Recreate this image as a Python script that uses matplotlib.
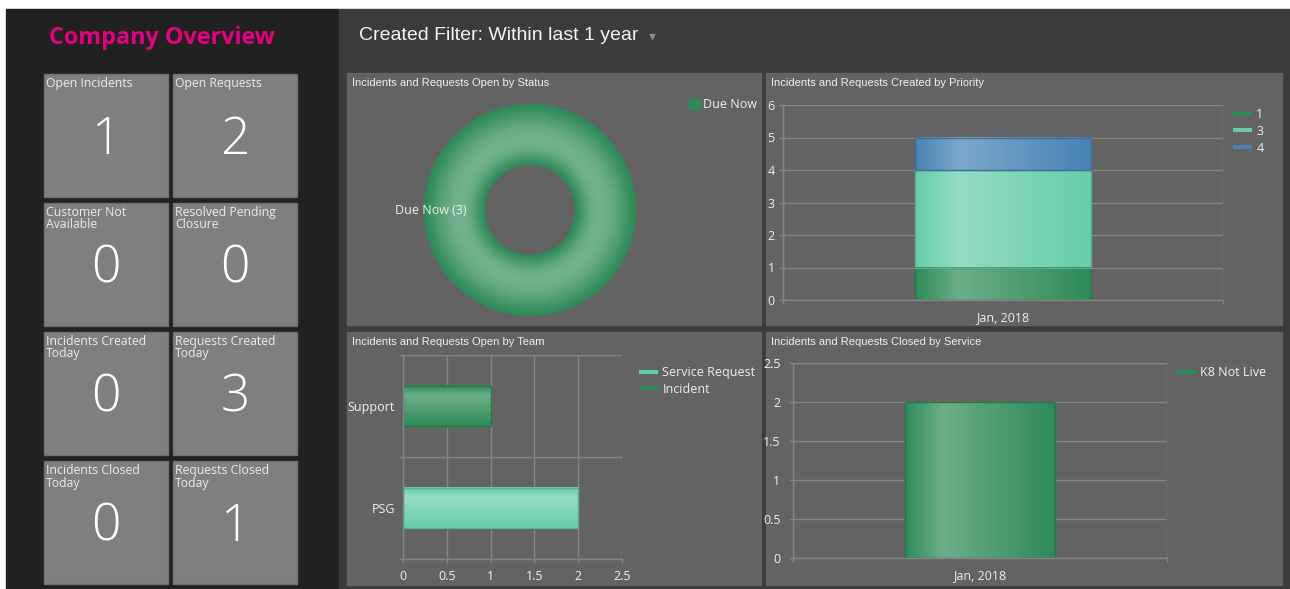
import matplotlib
matplotlib.use("Agg")
import matplotlib.pyplot as plt
import numpy as np
from matplotlib.patches import Rectangle
from matplotlib.lines import Line2D
from matplotlib.colors import to_rgb
from matplotlib.ticker import FuncFormatter

plt.rcParams['font.family'] = ['Open Sans', 'DejaVu Sans']

W, H = 1290, 589

# ---- data ----
tile_labels = ["Open Incidents", "Open Requests",
               "Customer Not\nAvailable", "Resolved Pending\nClosure",
               "Incidents Created\nToday", "Requests Created\nToday",
               "Incidents Closed\nToday", "Requests Closed\nToday"]
tile_values = [1, 2, 0, 0, 0, 3, 0, 1]

status_names = ["Due Now"]
status_counts = [3]

priority_months = ["Jan, 2018"]
priority_names = ["1", "3", "4"]
priority_counts = [[1], [3], [1]]

teams = ["PSG", "Support"]
team_series = ["Service Request", "Incident"]
team_counts = [[2, 0], [0, 1]]

service_months = ["Jan, 2018"]
service_names = ["K8 Not Live"]
service_counts = [[2]]

chart_titles = ["Incidents and Requests Open by Status",
                "Incidents and Requests Created by Priority",
                "Incidents and Requests Open by Team",
                "Incidents and Requests Closed by Service"]

# ---- colours ----
GREEN = '#2e8b57'
AQUA = '#66cdaa'
BLUE = '#4682b4'
PANEL = '#636363'
GRID = '#858585'
TXT = '#f0f0f0'


def box(x0, y0, x1, y1):
    return [x0 / W, 1 - y1 / H, (x1 - x0) / W, (y1 - y0) / H]


def darker(c, f=0.85):
    return tuple(np.array(to_rgb(c)) * f)


def shade(ax, patch, color, horizontal=True, peak=0.25, amount=0.3):
    # gloss gradient over one bar, clipped to the bar itself
    x, y = patch.get_x(), patch.get_y()
    w, h = patch.get_width(), patch.get_height()
    if w == 0 or h == 0:
        patch.set_visible(False)
        return
    t = np.linspace(0, 1, 200)
    k = np.where(t < peak, t / peak, (1 - t) / (1 - peak))
    base = np.array(to_rgb(color))
    cols = base + (1 - base) * amount * k[:, None]
    img = cols[None, :, :] if horizontal else cols[:, None, :]
    z = patch.get_zorder()
    ax.imshow(img, extent=(x, x + w, y, y + h), origin='upper', aspect='auto',
              interpolation='bilinear', zorder=z + 0.1, clip_path=patch)
    patch.set_facecolor('none')
    patch.set_zorder(z + 0.2)


def style(ax):
    ax.set_facecolor(PANEL)
    for s in ['top', 'right']:
        ax.spines[s].set_visible(False)
    for s in ['left', 'bottom']:
        ax.spines[s].set_color(GRID)
        ax.spines[s].set_linewidth(1)
    ax.tick_params(which='both', colors=GRID, labelcolor=TXT, length=3, width=1, labelsize=9)
    ax.set_axisbelow(True)


def leg(ax, handles, labels, x, y, **kw):
    opts = dict(handlelength=1.2, handletextpad=0.5, labelspacing=0.3)
    opts.update(kw)
    ax.legend(handles, labels, loc='upper left', bbox_to_anchor=(x / W, 1 - y / H),
              bbox_transform=fig.transFigure, frameon=False, borderpad=0, borderaxespad=0,
              fontsize=9, labelcolor=TXT, **opts)


fig = plt.figure(figsize=(W / 100, H / 100), dpi=100, facecolor='white')

# ---- background, tiles, panels ----
bg = fig.add_axes([0, 0, 1, 1], zorder=0)
bg.set_xlim(0, W)
bg.set_ylim(H, 0)
bg.axis('off')
bg.add_patch(Rectangle((6, 9), 333, H - 9, color='#212121'))
bg.add_patch(Rectangle((339, 9), W - 339, H - 9, color='#3b3b3b'))

bg.text(162, 38, "Company Overview", ha='center', va='center', fontsize=16.8,
        fontweight='bold', color='#e6007e')
bg.text(359, 35, "Created Filter: Within last 1 year", ha='left', va='center',
        fontsize=14, color='#f5f5f5', family='Liberation Sans')
bg.text(652, 36, '\u25be', ha='center', va='center', fontsize=10, color='#8a8a8a',
        family='DejaVu Sans')

tile_x = [44, 173]
tile_y = [74, 203, 332, 461]
for i, (lab, val) in enumerate(zip(tile_labels, tile_values)):
    x0 = tile_x[i % 2]
    y0 = tile_y[i // 2]
    bg.add_patch(Rectangle((x0, y0), 124, 123, facecolor='#7f7f7f', edgecolor='#707070', lw=1))
    bg.text(x0 + 2, y0 + 3, lab, ha='left', va='top', fontsize=8.8, linespacing=0.95,
            color='#ececec')
    bg.text(x0 + 62, y0 + 66, str(val), ha='center', va='center', fontsize=37,
            color='white', fontweight='light')

panels = [(347, 73, 761, 325), (766, 73, 1282, 325), (347, 332, 761, 585), (766, 332, 1282, 585)]
for (x0, y0, x1, y1), title in zip(panels, chart_titles):
    bg.add_patch(Rectangle((x0, y0), x1 - x0, y1 - y0, color=PANEL))
    bg.text(x0 + 5, y0 + 10, title, ha='left', va='center', fontsize=8, color=TXT,
            family='Liberation Sans')

# ---- donut: open by status ----
axp = fig.add_axes(box(423, 103, 637, 317), zorder=1)
wedges, texts = axp.pie(status_counts, labels=[f"{n} ({c})" for n, c in zip(status_names, status_counts)],
                        labeldistance=0.6, startangle=0, radius=1, colors=[GREEN],
                        wedgeprops=dict(width=0.575, edgecolor='none'),
                        textprops=dict(color=TXT, fontsize=9))
gx, gy = np.meshgrid(np.linspace(-1, 1, 400), np.linspace(-1, 1, 400))
t = (np.hypot(gx, gy) - 0.425) / 0.575
t = np.clip(t, 0, 1)
k = np.sin(np.pi * np.where(t < 0.4, t / 0.8, 0.5 + (t - 0.4) / 1.2)) ** 1.3
base = np.array(to_rgb(GREEN))
img = base + (1 - base) * 0.33 * k[..., None]
for w in wedges:
    axp.imshow(img, extent=(-1, 1, -1, 1), origin='lower', zorder=1.5, clip_path=w,
               interpolation='bilinear')
axp.set_xlim(-1.01, 1.01)
axp.set_ylim(-1.01, 1.01)
axp.set_aspect('equal')
for tx in texts:
    tx.set_zorder(3)
leg(axp, [Rectangle((0, 0), 1, 1, color=GREEN)], status_names, 689, 98,
    handlelength=0.85, handleheight=0.85, handletextpad=0.25)

# ---- stacked bars: created by priority ----
pri_colors = [GREEN, AQUA, BLUE]
axb = fig.add_axes(box(783, 105, 1223, 300), zorder=1)
style(axb)
xb = np.arange(len(priority_months))
bottom = np.zeros(len(xb))
for name, vals, col in zip(priority_names, priority_counts, pri_colors):
    bars = axb.bar(xb, vals, 0.4, bottom=bottom, color=col, edgecolor=darker(col), lw=1, zorder=2)
    for p in bars:
        shade(axb, p, col)
    bottom += np.array(vals)
axb.set_xlim(-0.5, len(xb) - 0.5)
axb.set_ylim(0, 6)
axb.set_aspect('auto')
axb.set_yticks(range(0, 7))
axb.set_xticks(xb, priority_months)
axb.set_xticks(np.arange(len(xb) + 1) - 0.5, minor=True)
axb.tick_params(axis='x', which='major', length=0, pad=8)
axb.tick_params(axis='y', pad=3)
axb.grid(axis='y', color=GRID, lw=1)
axb.grid(axis='x', which='minor', color=GRID, lw=1)
leg(axb, [Line2D([], [], color=c, lw=3) for c in pri_colors], priority_names, 1235, 108)

# ---- horizontal bars: open by team ----
team_colors = [AQUA, GREEN]
axc = fig.add_axes(box(403, 355, 622, 559), zorder=1)
style(axc)
yc = np.arange(len(teams))
left = np.zeros(len(yc))
for name, vals, col in zip(team_series, team_counts, team_colors):
    bars = axc.barh(yc, vals, 0.4, left=left, color=col, edgecolor=darker(col), lw=1, zorder=2)
    for p in bars:
        shade(axc, p, col, horizontal=False)
    left += np.array(vals)
axc.set_xlim(0, 2.5)
axc.set_ylim(-0.5, len(yc) - 0.5)
axc.set_aspect('auto')
axc.set_xticks(np.arange(0, 2.51, 0.5))
axc.xaxis.set_major_formatter(FuncFormatter(lambda v, p: f"{v:g}"))
axc.set_yticks(yc, teams)
axc.set_yticks(np.arange(len(yc) + 1) - 0.5, minor=True)
axc.tick_params(axis='y', which='major', length=0, pad=6)
axc.tick_params(axis='x', pad=5)
axc.grid(axis='x', color=GRID, lw=1)
axc.grid(axis='y', which='minor', color=GRID, lw=1)
leg(axc, [Line2D([], [], color=c, lw=3) for c in team_colors], team_series, 641, 366)

# ---- bars: closed by service ----
axd = fig.add_axes(box(793, 363, 1167, 558), zorder=1)
style(axd)
xd = np.arange(len(service_months))
for name, vals in zip(service_names, service_counts):
    bars = axd.bar(xd, vals, 0.4, color=GREEN, edgecolor=darker(GREEN), lw=1, zorder=2)
    for p in bars:
        shade(axd, p, GREEN)
axd.set_xlim(-0.5, len(xd) - 0.5)
axd.set_ylim(0, 2.5)
axd.set_aspect('auto')
axd.set_yticks(np.arange(0, 2.51, 0.5))
axd.yaxis.set_major_formatter(FuncFormatter(lambda v, p: f"{v:g}"))
axd.set_xticks(xd, service_months)
axd.set_xticks(np.arange(len(xd) + 1) - 0.5, minor=True)
axd.tick_params(axis='x', which='major', length=0, pad=8)
axd.tick_params(axis='y', pad=6)
axd.grid(axis='y', color=GRID, lw=1)
axd.grid(axis='x', which='minor', color=GRID, lw=1)
leg(axd, [Line2D([], [], color=GREEN, lw=3)], service_names, 1179, 366)

fig.savefig('out.png', dpi=100, facecolor='white')
